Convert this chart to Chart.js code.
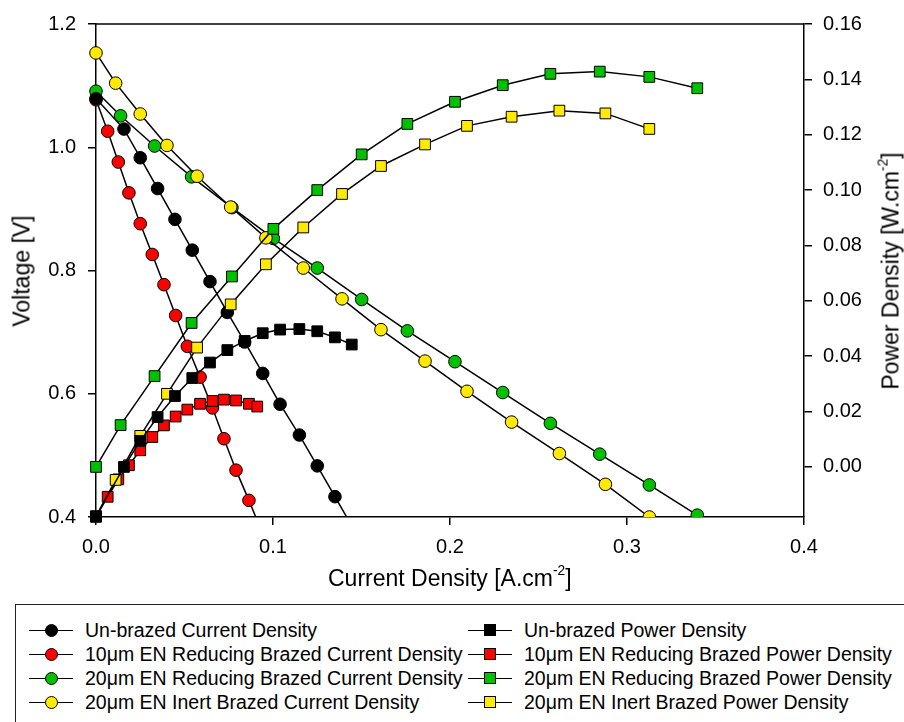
<!DOCTYPE html>
<html>
<head>
<meta charset="utf-8">
<script src="https://cdn.jsdelivr.net/npm/chart.js@4.4.1/dist/chart.umd.min.js"></script>
<style>
html,body{margin:0;padding:0;background:#fff;overflow:hidden}
body{width:904px;height:722px;position:relative;font-family:"Liberation Sans",Arial,sans-serif;color:#000}
#wrap{position:absolute;left:0;top:0;width:904px;height:600px}
.ttl{position:absolute;font-size:23px;line-height:1;white-space:nowrap}
.ttl sup{font-size:0.6em;position:relative;top:-0.2em;vertical-align:top}
.rot{transform:translate(-50%,-50%) rotate(-90deg)}
#legbox{position:absolute;left:15px;top:604px;width:940px;height:160px;border:1.5px solid #222;box-sizing:border-box}
.item{position:absolute;height:24px;line-height:24px;font-size:19.5px;white-space:nowrap}
.sym{position:absolute;top:0;width:44px;height:24px}
.sym .ln{position:absolute;left:0;right:0;top:11.5px;height:1.5px;background:#000}
.sym .mk{position:absolute;border:1px solid #000;box-sizing:border-box}
</style>
</head>
<body>
<div id="wrap"><canvas id="c" width="904" height="600"></canvas></div>
<div class="ttl" id="xt">Current Density [A.cm<sup>-2</sup>]</div>
<div class="ttl rot" id="yt">Voltage [V]</div>
<div class="ttl rot" id="y2t">Power Density [W.cm<sup>-2</sup>]</div>
<div id="legbox"></div>
<script>
const $ = (s)=>document.querySelector(s);

// current density (x), voltage, power density
const xUnb = [0, 0.0158, 0.025, 0.0348, 0.0446, 0.0544, 0.0644, 0.0742, 0.084, 0.0942, 0.104, 0.1149, 0.125, 0.135, 0.1445];
const vUnb = [1.079, 1.0295, 0.983, 0.933, 0.883, 0.833, 0.782, 0.732, 0.684, 0.633, 0.583, 0.533, 0.483, 0.433, 0.3855];
const pUnb = [-0.0178, 0.0, 0.0094, 0.018, 0.0256, 0.0321, 0.0377, 0.0422, 0.0455, 0.0483, 0.0496, 0.0498, 0.049, 0.0468, 0.0442];

const xRed10 = [0, 0.0066, 0.0126, 0.0186, 0.025, 0.0318, 0.0384, 0.045, 0.0516, 0.0588, 0.0658, 0.0723, 0.0791, 0.0864, 0.0911];
const vRed10 = [1.077, 1.026, 0.976, 0.926, 0.876, 0.826, 0.777, 0.727, 0.677, 0.627, 0.577, 0.527, 0.476, 0.427, 0.394];
const pRed10 = [-0.018, -0.0108, -0.0045, 0.0006, 0.006, 0.0108, 0.015, 0.0182, 0.0207, 0.0228, 0.0238, 0.0243, 0.024, 0.0228, 0.0218];

const xRed20 = [0, 0.0139, 0.0331, 0.054, 0.0768, 0.1002, 0.125, 0.1501, 0.1759, 0.2028, 0.2298, 0.2567, 0.2846, 0.3126, 0.3397];
const vRed20 = [1.091, 1.051, 1.002, 0.952, 0.902, 0.852, 0.804, 0.753, 0.702, 0.652, 0.602, 0.552, 0.502, 0.452, 0.403];
const pRed20 = [0, 0.0151, 0.0328, 0.052, 0.0688, 0.086, 0.1, 0.1129, 0.1239, 0.1319, 0.1379, 0.142, 0.1428, 0.1409, 0.1368];

const xInert20 = [0, 0.0111, 0.025, 0.0401, 0.0571, 0.0761, 0.096, 0.1171, 0.139, 0.161, 0.1859, 0.2096, 0.2348, 0.2618, 0.2878, 0.3126];
const vInert20 = [1.153, 1.104, 1.054, 1.003, 0.953, 0.903, 0.853, 0.804, 0.754, 0.704, 0.653, 0.604, 0.554, 0.503, 0.453, 0.400];
const pInert20 = [-0.018, -0.0047, 0.0112, 0.0264, 0.0431, 0.0587, 0.0732, 0.0865, 0.0986, 0.1087, 0.1165, 0.1232, 0.1265, 0.1287, 0.1277, 0.1221];

const xTicks = [0, 0.1, 0.2, 0.3, 0.4];
const vTicks = [0.4, 0.6, 0.8, 1.0, 1.2];
const pTicks = [0, 0.02, 0.04, 0.06, 0.08, 0.10, 0.12, 0.14, 0.16];

const names = ['Un-brazed', '10\u03bcm EN Reducing Brazed', '20\u03bcm EN Reducing Brazed', '20\u03bcm EN Inert Brazed'];
const colors = ['#000000', '#ff0000', '#00c000', '#ffea00'];
const rank = [0, 3, 2, 1]; // draw order: black on top, then yellow, green, red

const series = [
  {x:xUnb, v:vUnb, p:pUnb},
  {x:xRed10, v:vRed10, p:pRed10},
  {x:xRed20, v:vRed20, p:pRed20},
  {x:xInert20, v:vInert20, p:pInert20}
];

const V_MIN = 0.4, P_MIN = -0.0181;
const CIRC = 6.3, SQ = 7.6;

const datasets = [];
series.forEach((s,i)=>{
  datasets.push({
    label: names[i]+' Current Density',
    data: s.x.map((x,k)=>({x, y:s.v[k]})),
    yAxisID:'y', order: 4+rank[i],
    borderColor:'#000', borderWidth:1.5, tension:0,
    pointStyle:'circle',
    pointRadius: (c)=> c.raw && c.raw.y < V_MIN ? 0 : CIRC,
    pointBackgroundColor: colors[i], pointBorderColor:'#000', pointBorderWidth:1,
    clip:{left:12, right:12, top:12, bottom:0}
  });
  datasets.push({
    label: names[i]+' Power Density',
    data: s.x.map((x,k)=>({x, y:s.p[k]})),
    yAxisID:'y2', order: rank[i],
    borderColor:'#000', borderWidth:1.5, tension:0,
    pointStyle:'rect', pointRadius: SQ,
    pointBackgroundColor: colors[i], pointBorderColor:'#000', pointBorderWidth:1,
    clip:12
  });
});

const tickFont = {family:'"Liberation Sans", Arial, sans-serif', size:20};
const gridOpt = {drawOnChartArea:false, drawTicks:true, tickLength:8, color:'#000', lineWidth:1.5};
const borderOpt = {color:'#000', width:1.5};

const frameTop = {
  id:'frameTop',
  afterDraw(c){
    const {ctx, chartArea:a} = c;
    ctx.save();
    ctx.strokeStyle = '#000'; ctx.lineWidth = 1.5;
    ctx.beginPath(); ctx.moveTo(a.left, a.top); ctx.lineTo(a.right, a.top); ctx.stroke();
    ctx.restore();
  }
};

const chart = new Chart($('#c'), {
  type:'scatter',
  data:{datasets},
  options:{
    responsive:false, animation:false, showLine:true,
    layout:{padding:{top:21, left:0, right:0, bottom:0}},
    plugins:{legend:{display:false}, tooltip:{enabled:false}},
    scales:{
      x:{
        type:'linear', position:'bottom', min:0, max:0.4,
        afterFit:(s)=>{ s.height = 83; },
        afterBuildTicks:(s)=>{ s.ticks = xTicks.map(v=>({value:v})); },
        ticks:{font:tickFont, color:'#000', padding:10, callback:(v)=>Number(v).toFixed(1), maxRotation:0},
        grid:gridOpt, border:borderOpt
      },
      y:{
        type:'linear', position:'left', min:V_MIN, max:1.2,
        afterFit:(s)=>{ s.width = 96; },
        afterBuildTicks:(s)=>{ s.ticks = vTicks.map(v=>({value:v})); },
        ticks:{font:tickFont, color:'#000', padding:12, callback:(v)=>Number(v).toFixed(1)},
        grid:gridOpt, border:borderOpt
      },
      y2:{
        type:'linear', position:'right', min:P_MIN, max:0.16,
        afterFit:(s)=>{ s.width = 100; },
        afterBuildTicks:(s)=>{ s.ticks = pTicks.map(v=>({value:v})); },
        ticks:{font:tickFont, color:'#000', padding:11, callback:(v)=>Number(v).toFixed(2)},
        grid:gridOpt, border:borderOpt
      }
    }
  },
  plugins:[frameTop]
});

// axis titles placed around the chart area
const a = chart.chartArea;
const xt = $('#xt');
xt.style.left = ((a.left+a.right)/2 - xt.offsetWidth/2) + 'px';
xt.style.top = '567px';
const yt = $('#yt');
yt.style.left = '22px'; yt.style.top = ((a.top+a.bottom)/2) + 'px';
const y2t = $('#y2t');
y2t.style.left = '891px'; y2t.style.top = ((a.top+a.bottom)/2) + 'px';

// legend: two columns, current density (circles) and power density (squares)
function legendItem(label, color, shape, lineX, textX, y){
  const it = document.createElement('div');
  it.className = 'item';
  it.style.left = lineX + 'px'; it.style.top = (y-12) + 'px';
  const sym = document.createElement('div');
  sym.className = 'sym';
  const ln = document.createElement('div'); ln.className = 'ln';
  const mk = document.createElement('div'); mk.className = 'mk';
  const d = shape==='circle' ? 13 : 12;
  mk.style.width = d+'px'; mk.style.height = d+'px';
  mk.style.left = (22-d/2)+'px'; mk.style.top = (12.25-d/2)+'px';
  mk.style.background = color;
  if(shape==='circle') mk.style.borderRadius = '50%';
  sym.appendChild(ln); sym.appendChild(mk);
  const txt = document.createElement('span');
  txt.textContent = label;
  txt.style.position = 'absolute'; txt.style.left = (textX-lineX)+'px'; txt.style.top = '0';
  it.appendChild(sym); it.appendChild(txt);
  document.body.appendChild(it);
}
names.forEach((n,i)=>{
  const y = 630 + i*24;
  legendItem(n+' Current Density', colors[i], 'circle', 29, 85, y);
  legendItem(n+' Power Density', colors[i], 'rect', 468, 524, y);
});
</script>
</body>
</html>
